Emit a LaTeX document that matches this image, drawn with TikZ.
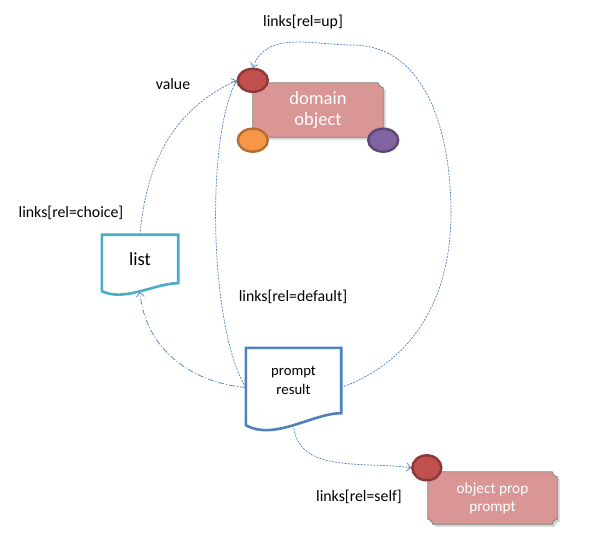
\documentclass[tikz,border=0pt]{standalone}
\usepackage{fontspec}
\setmainfont{Carlito}
\usetikzlibrary{positioning}
\usetikzlibrary{shapes.geometric}
\usetikzlibrary{shadows,backgrounds,arrows.meta}
\definecolor{linkblue}{HTML}{4F81BD}
\definecolor{listteal}{HTML}{4BACC6}
\definecolor{plaque}{HTML}{D99694}
\definecolor{plaqueline}{HTML}{7F7F7F}
\definecolor{redf}{HTML}{C0504D}
\definecolor{redl}{HTML}{8C3836}
\definecolor{orangef}{HTML}{F79646}
\definecolor{orangel}{HTML}{B66D31}
\definecolor{purplef}{HTML}{8064A2}
\definecolor{purplel}{HTML}{5C4776}
\newcommand{\LINKS}[1]{links[rel=#1]}
\newcommand{\plaque}[1]{\filldraw[plqfill] ([xshift=5pt]#1.north west) -- ([xshift=-5pt]#1.north east)
    .. controls +(0,-2.8pt) and +(-2.8pt,0) .. ([yshift=-5pt]#1.north east)
    -- ([yshift=5pt]#1.south east)
    .. controls +(-2.8pt,0) and +(0,2.8pt) .. ([xshift=-5pt]#1.south east)
    -- ([xshift=5pt]#1.south west)
    .. controls +(0,2.8pt) and +(2.8pt,0) .. ([yshift=5pt]#1.south west)
    -- ([yshift=-5pt]#1.north west)
    .. controls +(2.8pt,0) and +(0,-2.8pt) .. cycle;}

\begin{document}
\begin{tikzpicture}[x=1pt, y=1pt,
    lbl/.style = {font=\fontsize{15.8}{19}\selectfont, text=black},
    plq/.style = {shape=rectangle, minimum width=130pt, minimum height=54pt, inner sep=0pt, align=center, text=white},
    plqfill/.style = {fill=plaque, draw=plaqueline, line width=0.8pt, drop shadow={opacity=0.35, shadow xshift=2.5pt, shadow yshift=-2.5pt}},
    doc/.style = {shape=rectangle, inner sep=0pt, align=center},
    dot/.style = {shape=ellipse, line width=2.4pt, minimum width=30pt, minimum height=23pt, inner sep=0pt},
    link/.style = {draw=linkblue, line width=0.7pt, dash pattern=on 2pt off 1.2pt, -{Straight Barb[length=4pt,width=8pt]}},
    ]
    \useasboundingbox (0,0) rectangle (596,549);
    \node[plq, font=\fontsize{18.5}{21}\selectfont] (D) at (318,439) {domain\\object};
    \node[plq, minimum width=129pt, minimum height=52pt, font=\fontsize{15.3}{18}\selectfont] (Q) at (492.5,51) {object prop\\prompt};
    \node[doc, minimum width=76pt, minimum height=48pt, font=\fontsize{18.5}{21}\selectfont] (L) at (140,290) {list};
    \node[doc, minimum width=95pt, minimum height=65pt, font=\fontsize{14.7}{19}\selectfont] (P) at (293.5,168.5) {prompt\\result};
    \begin{scope}[on background layer]
        \plaque{D}
        \plaque{Q}
    \end{scope}

    \draw[line width=2.6pt, draw=listteal] (L.north west) -- (L.north east) -- (L.south east)
        .. controls +(-23pt,0) and +(23pt,-11pt) .. ([yshift=-8pt]L.south west) -- cycle;
    \draw[line width=2.6pt, draw=linkblue] (P.north west) -- (P.north east) -- (P.south east)
        .. controls +(-28.5pt,0) and +(28.5pt,-16pt) .. ([yshift=-12pt]P.south west) -- cycle;

    \node[dot, fill=redf, draw=redl] (R1) at ([yshift=2.5pt]D.north west) {};
    \node[dot, fill=orangef, draw=orangel] (O1) at ([yshift=-3pt]D.south west) {};
    \node[dot, fill=purplef, draw=purplel] (V1) at ([yshift=-3pt]D.south east) {};
    \node[dot, fill=redf, draw=redl, minimum width=29pt, minimum height=25pt] (R2) at ([xshift=-1pt, yshift=4pt]Q.north west) {};

    \node[lbl] (T1) at (303,527) {\LINKS{up}};
    \node[lbl] (T2) at (173,465) {value};
    \node[lbl] (T3) at (71,336) {\LINKS{choice}};
    \node[lbl] (T4) at (293,252) {\LINKS{default}};
    \node[lbl] (T5) at (359,52) {\LINKS{self}};

    \draw[link] ([yshift=-7pt]P.east) to[out=20, in=-90] (451,336) to[out=90, in=0] (352,504) to[out=180, in=70] (R1.north);
    \draw[link] (L.north) to[out=85, in=205] (R1.west);
    \draw[link] ([yshift=-7pt]P.west) .. controls (210,219) and (205,409) .. (R1.west);
    \draw[link, dash pattern=on 6pt off 2pt on 1pt off 2pt] ([yshift=-7pt]P.west) to[out=175, in=-85] ([yshift=-9pt]L.south);
    \draw[link] ([yshift=-12pt]P.south) to[out=-85, in=172] (R2.west);
\end{tikzpicture}
\end{document}
